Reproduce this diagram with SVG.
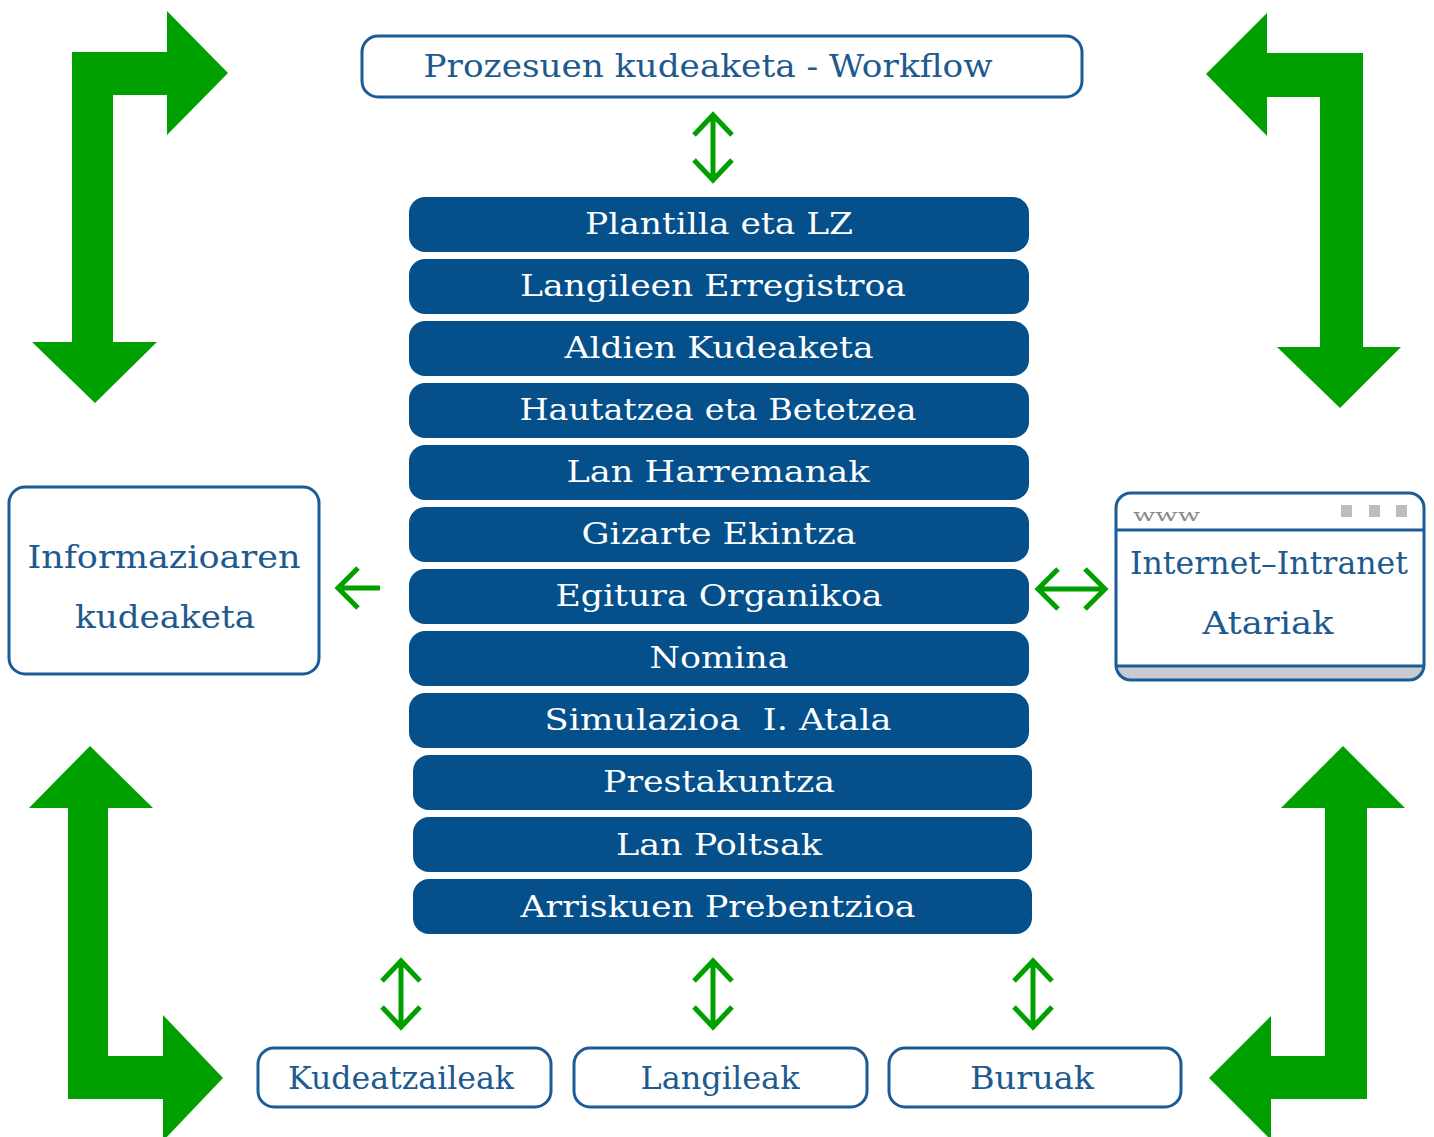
<svg xmlns="http://www.w3.org/2000/svg" width="1434" height="1137" viewBox="0 0 1434 1137">
<style>
.big{fill:#00a000}
.conn{fill:none;stroke:#00a000;stroke-width:5;stroke-linecap:butt;stroke-linejoin:miter}
.box{fill:#fff;stroke:#1b5c96;stroke-width:3}
.bar{fill:#05508a}
.t{font-family:"DejaVu Serif","Liberation Serif",serif;text-anchor:middle}
.wt{fill:#fff;font-size:30px}
.bt{fill:#1d5a8f;font-size:31px}
</style>
<rect width="1434" height="1137" fill="#fff"/>
<g id="connectors">
<path class="big" d="M72,52 L167,52 L167,11 L228,73 L167,135 L167,95 L113,95 L113,342 L157,342 L95,403 L32,342 L72,342 Z"/>
<path class="big" d="M1363,53 L1267,53 L1267,13 L1206,74 L1267,136 L1267,97 L1320,97 L1320,347 L1277,347 L1340,408 L1401,347 L1363,347 Z"/>
<path class="big" d="M68,808 L29,808 L90,746 L153,808 L108,808 L108,1056 L163,1056 L163,1015 L223,1078 L163,1141 L163,1099 L68,1099 Z"/>
<path class="big" d="M1367,808 L1405,808 L1343,746 L1281,808 L1325,808 L1325,1056 L1271,1056 L1271,1016 L1209,1078 L1271,1140 L1271,1099 L1367,1099 Z"/>
<path class="conn" d="M713,115 L713,180 M694,135 L713,115 L732,135 M694,160 L713,180 L732,160"/>
<path class="conn" d="M401,961 L401,1027 M382,981 L401,961 L420,981 M382,1007 L401,1027 L420,1007"/>
<path class="conn" d="M713,961 L713,1027 M694,981 L713,961 L732,981 M694,1007 L713,1027 L732,1007"/>
<path class="conn" d="M1033,961 L1033,1027 M1014,981 L1033,961 L1052,981 M1014,1007 L1033,1027 L1052,1007"/>
<path class="conn" d="M338,588 L380,588 M358,568 L338,588 L358,608"/>
<path class="conn" d="M1038,589 L1105,589 M1058,569 L1038,589 L1058,609 M1085,569 L1105,589 L1085,609"/>
</g>
<g id="workflow">
<rect class="box" x="362" y="36" width="720" height="61" rx="16"/>
<text class="t bt" x="708" y="77" textLength="569" lengthAdjust="spacingAndGlyphs">Prozesuen kudeaketa - Workflow</text>
</g>
<g id="plantilla"><rect class="bar" x="409" y="197" width="620" height="55" rx="16"/><text class="t wt" x="719" y="234" textLength="268" lengthAdjust="spacingAndGlyphs">Plantilla eta LZ</text></g>
<g id="langileen"><rect class="bar" x="409" y="259" width="620" height="55" rx="16"/><text class="t wt" x="713" y="296" textLength="386" lengthAdjust="spacingAndGlyphs">Langileen Erregistroa</text></g>
<g id="aldien"><rect class="bar" x="409" y="321" width="620" height="55" rx="16"/><text class="t wt" x="719" y="358" textLength="309" lengthAdjust="spacingAndGlyphs">Aldien Kudeaketa</text></g>
<g id="hautatzea"><rect class="bar" x="409" y="383" width="620" height="55" rx="16"/><text class="t wt" x="718" y="420" textLength="397" lengthAdjust="spacingAndGlyphs">Hautatzea eta Betetzea</text></g>
<g id="harremanak"><rect class="bar" x="409" y="445" width="620" height="55" rx="16"/><text class="t wt" x="718" y="482" textLength="303" lengthAdjust="spacingAndGlyphs">Lan Harremanak</text></g>
<g id="gizarte"><rect class="bar" x="409" y="507" width="620" height="55" rx="16"/><text class="t wt" x="719" y="544" textLength="275" lengthAdjust="spacingAndGlyphs">Gizarte Ekintza</text></g>
<g id="egitura"><rect class="bar" x="409" y="569" width="620" height="55" rx="16"/><text class="t wt" x="719" y="606" textLength="327" lengthAdjust="spacingAndGlyphs">Egitura Organikoa</text></g>
<g id="nomina"><rect class="bar" x="409" y="631" width="620" height="55" rx="16"/><text class="t wt" x="719" y="668" textLength="139" lengthAdjust="spacingAndGlyphs">Nomina</text></g>
<g id="simulazioa"><rect class="bar" x="409" y="693" width="620" height="55" rx="16"/><text class="t wt" x="718" y="730" textLength="347" lengthAdjust="spacingAndGlyphs" xml:space="preserve">Simulazioa  I. Atala</text></g>
<g id="prestakuntza"><rect class="bar" x="413" y="755" width="619" height="55" rx="16"/><text class="t wt" x="719" y="792" textLength="232" lengthAdjust="spacingAndGlyphs">Prestakuntza</text></g>
<g id="poltsak"><rect class="bar" x="413" y="817" width="619" height="55" rx="16"/><text class="t wt" x="719" y="855" textLength="206" lengthAdjust="spacingAndGlyphs">Lan Poltsak</text></g>
<g id="arriskuen"><rect class="bar" x="413" y="879" width="619" height="55" rx="16"/><text class="t wt" x="718" y="917" textLength="395" lengthAdjust="spacingAndGlyphs">Arriskuen Prebentzioa</text></g>
<g id="informazioa">
<rect class="box" x="9" y="487" width="310" height="187" rx="16"/>
<text class="t bt" x="164" y="568" textLength="273" lengthAdjust="spacingAndGlyphs">Informazioaren</text>
<text class="t bt" x="165" y="628" textLength="180" lengthAdjust="spacingAndGlyphs">kudeaketa</text>
</g>
<g id="atariak">
<path d="M1116,666 L1424,666 L1424,668 Q1424,680 1410,680 L1130,680 Q1116,680 1116,668 Z" fill="#c8cbcf"/>
<rect x="1116" y="493" width="308" height="187" rx="15" fill="none" stroke="#1b5c96" stroke-width="3"/>
<line x1="1116" y1="530" x2="1424" y2="530" stroke="#1b5c96" stroke-width="3"/>
<line x1="1116" y1="666" x2="1424" y2="666" stroke="#1b5c96" stroke-width="3"/>
<text x="1133" y="521" font-family="DejaVu Serif,serif" font-size="17" fill="#8a8a8a" textLength="67" lengthAdjust="spacingAndGlyphs">www</text>
<rect x="1341" y="505" width="11" height="12" fill="#bdbdbd"/>
<rect x="1369" y="505" width="11" height="12" fill="#bdbdbd"/>
<rect x="1396" y="505" width="11" height="12" fill="#bdbdbd"/>
<text class="t bt" x="1269" y="574" font-size="30" textLength="278" lengthAdjust="spacingAndGlyphs">Internet–Intranet</text>
<text class="t bt" x="1268" y="634" textLength="131" lengthAdjust="spacingAndGlyphs">Atariak</text>
</g>
<g id="kudeatzaileak"><rect class="box" x="258" y="1048" width="293" height="59" rx="16"/><text class="t bt" x="401" y="1089" textLength="226" lengthAdjust="spacingAndGlyphs">Kudeatzaileak</text></g>
<g id="langileak"><rect class="box" x="574" y="1048" width="293" height="59" rx="16"/><text class="t bt" x="720" y="1089" textLength="159" lengthAdjust="spacingAndGlyphs">Langileak</text></g>
<g id="buruak"><rect class="box" x="889" y="1048" width="292" height="59" rx="16"/><text class="t bt" x="1032" y="1089" textLength="124" lengthAdjust="spacingAndGlyphs">Buruak</text></g>
</svg>
